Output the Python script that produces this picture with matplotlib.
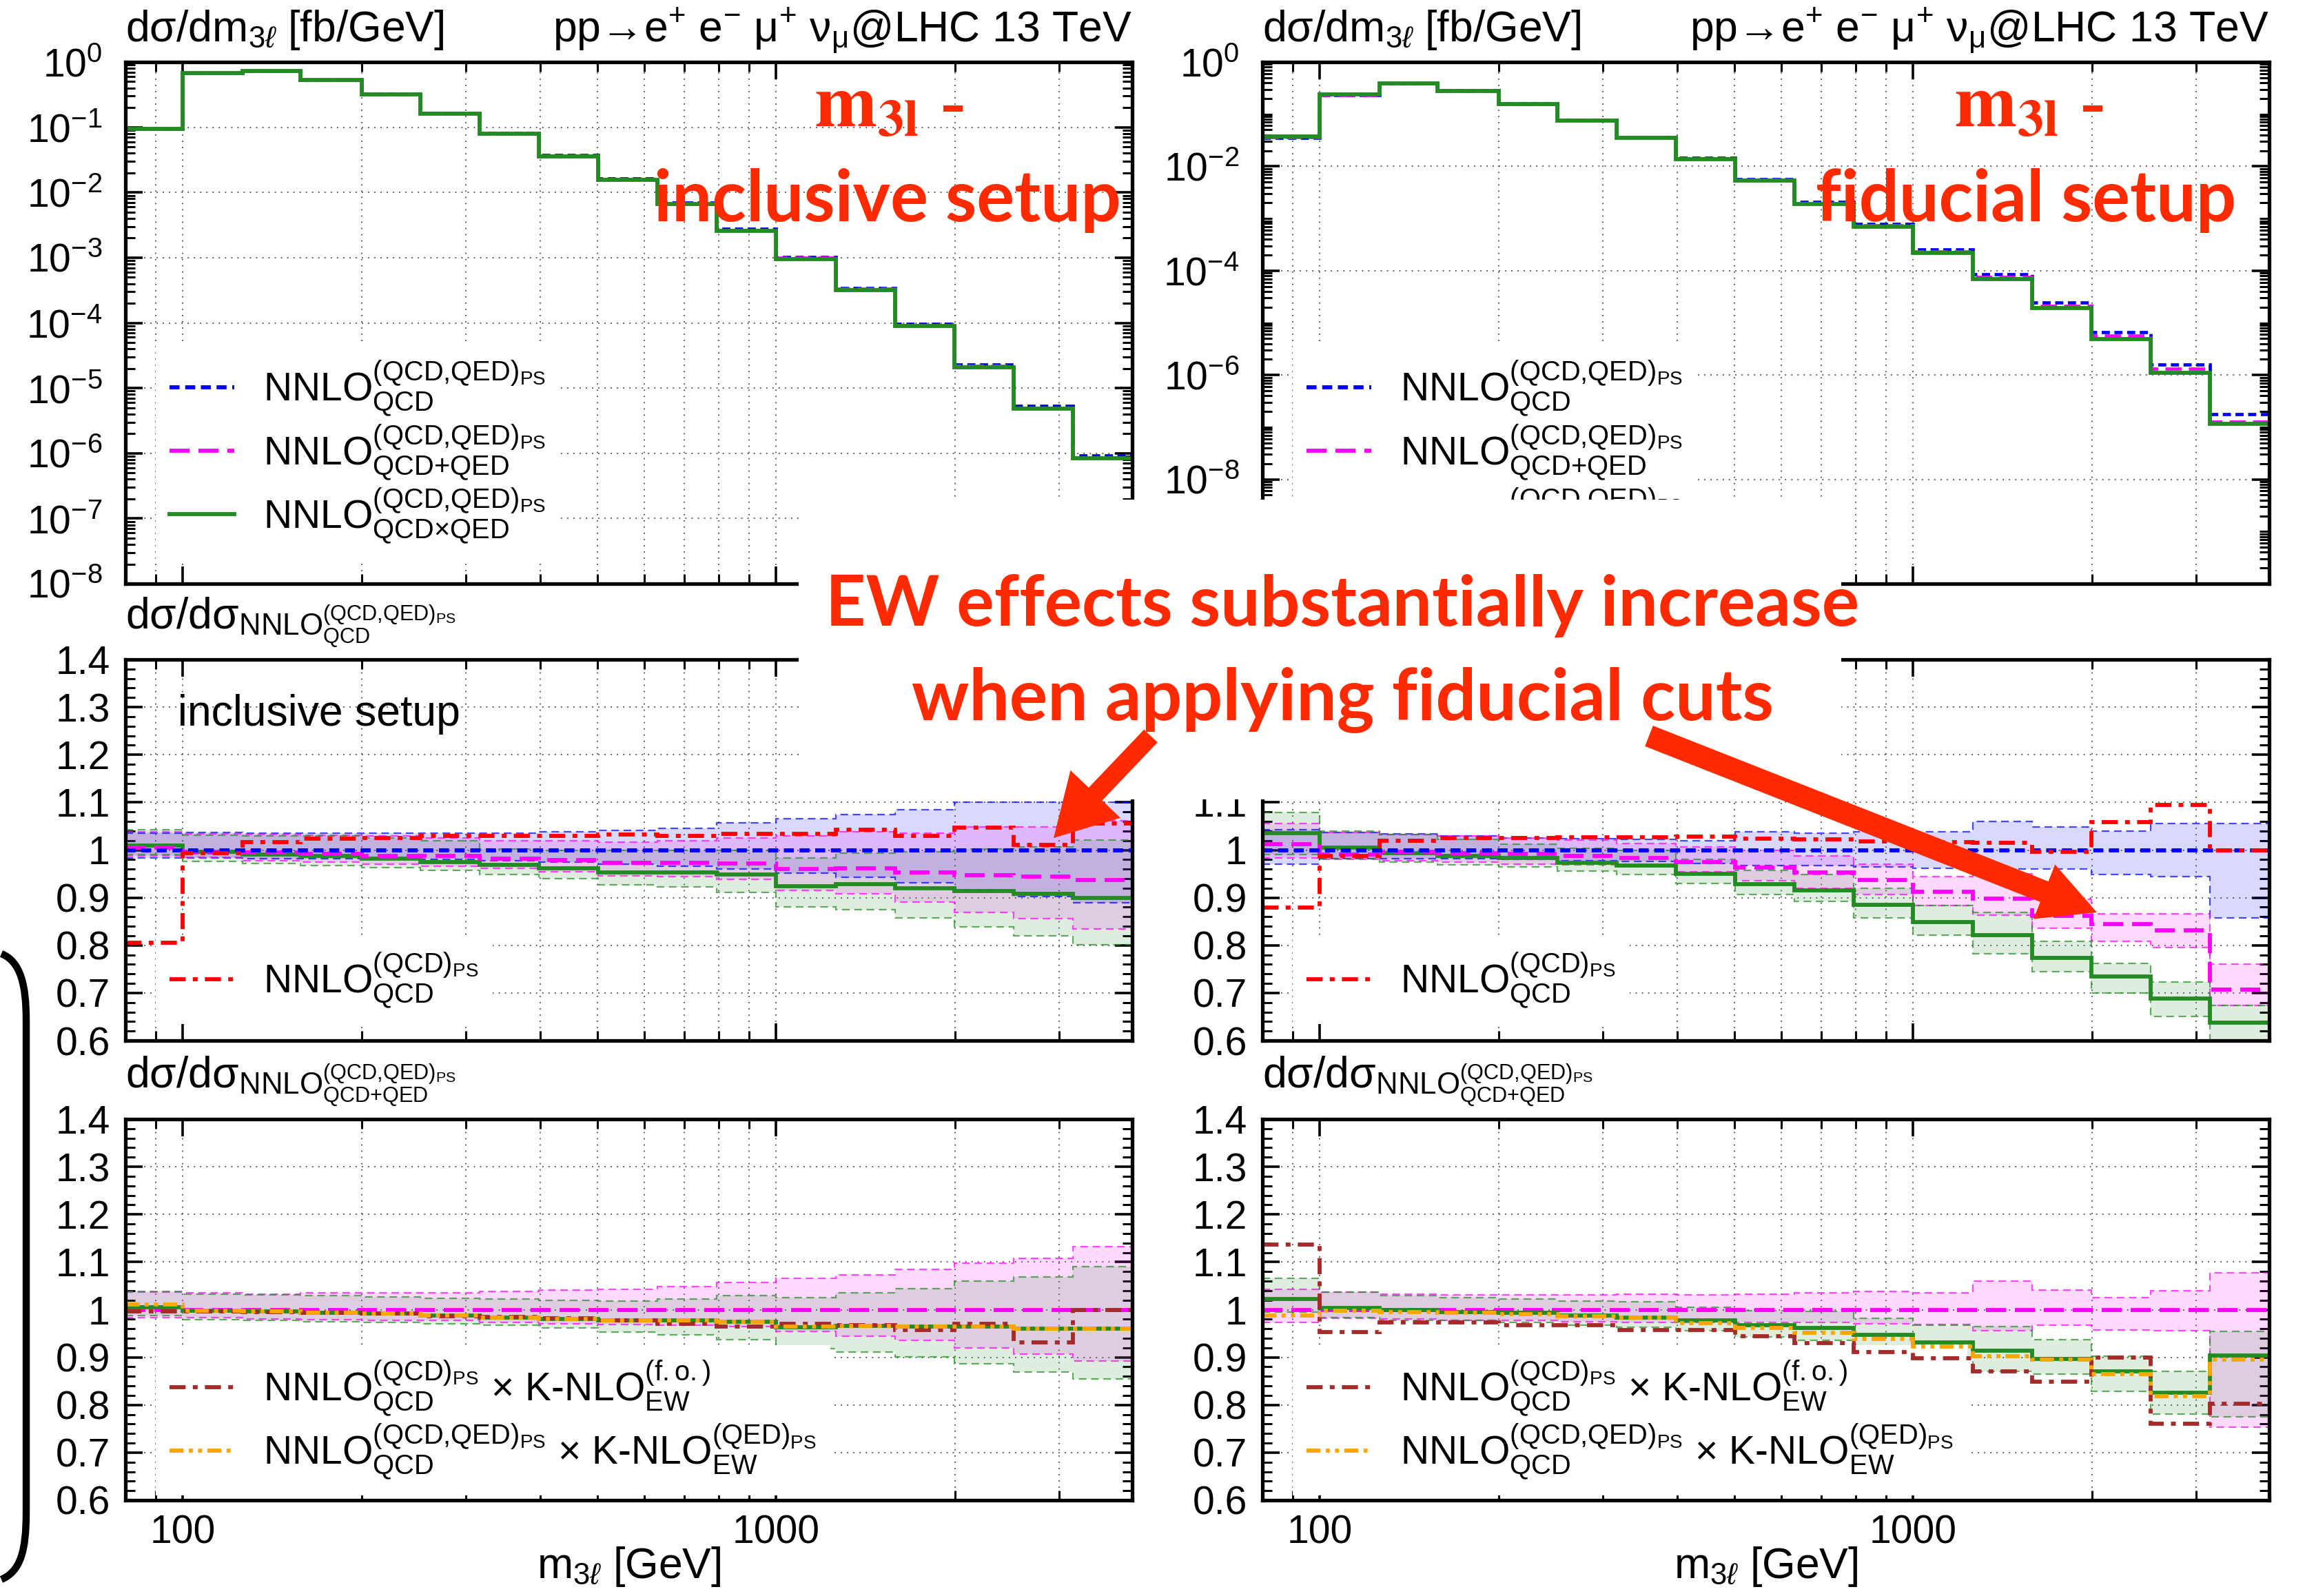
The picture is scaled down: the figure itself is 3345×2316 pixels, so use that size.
import numpy as np
import matplotlib
matplotlib.use('Agg')
from matplotlib import pyplot as plt
from matplotlib.lines import Line2D
from matplotlib.patches import Rectangle, FancyArrow, PathPatch
from matplotlib.path import Path
from matplotlib.ticker import FixedLocator, FixedFormatter, NullFormatter, MultipleLocator, LogLocator

plt.rcParams['font.family'] = ['Liberation Sans', 'DejaVu Sans']
plt.rcParams['mathtext.fontset'] = 'custom'
plt.rcParams['mathtext.rm'] = 'Liberation Sans'
plt.rcParams['mathtext.it'] = 'Liberation Sans:italic'
plt.rcParams['mathtext.bf'] = 'Liberation Sans:bold'

# ---------------- data ----------------
edges = [80, 100, 126, 158, 200, 251, 316, 398, 501, 631, 794, 1000, 1259, 1585, 1995, 2512, 3162, 3981]
x_major = [100, 1000]
x_major_labels = ['100', '1000']
x_minor = [90, 200, 300, 400, 500, 600, 700, 800, 900, 2000, 3000]
ratio_ticks = [0.6, 0.7, 0.8, 0.9, 1.0, 1.1, 1.2, 1.3, 1.4]
ratio_labels = ['0.6', '0.7', '0.8', '0.9', '1', '1.1', '1.2', '1.3', '1.4']
inc_log_ticks = [1e-8, 1e-7, 1e-6, 1e-5, 1e-4, 1e-3, 1e-2, 1e-1, 1e0]
inc_log_labels = [r'$10^{-8}$', r'$10^{-7}$', r'$10^{-6}$', r'$10^{-5}$', r'$10^{-4}$',
                  r'$10^{-3}$', r'$10^{-2}$', r'$10^{-1}$', r'$10^{0}$']
fid_log_ticks = [1e-10, 1e-8, 1e-6, 1e-4, 1e-2, 1e0]
fid_log_labels = [r'$10^{-10}$', r'$10^{-8}$', r'$10^{-6}$', r'$10^{-4}$', r'$10^{-2}$', r'$10^{0}$']

# d sigma / d m3l [fb/GeV]
inc_qcd = [0.094, 0.678, 0.737, 0.537, 0.326, 0.166, 0.0815, 0.0375, 0.0164, 0.0069, 0.00274,
           1.03e-3, 3.45e-4, 9.7e-5, 2.3e-5, 5.3e-6, 9.2e-7]
inc_sum = [0.0945, 0.675, 0.733, 0.533, 0.322, 0.164, 0.080, 0.0367, 0.016, 0.0067, 0.00266,
           9.9e-4, 3.32e-4, 9.2e-5, 2.18e-5, 5.0e-6, 8.6e-7]
inc_prod = [0.095, 0.676, 0.73, 0.53, 0.32, 0.162, 0.079, 0.036, 0.0156, 0.0066, 0.0026,
            9.5e-4, 3.2e-4, 8.9e-5, 2.1e-5, 4.8e-6, 8.3e-7]
fid_qcd = [0.0357, 0.235, 0.387, 0.284, 0.159, 0.078, 0.0367, 0.0144, 0.0057, 0.00207, 7.9e-4,
           2.59e-4, 8.5e-5, 2.46e-5, 6.7e-6, 1.6e-6, 1.8e-7]
fid_sum = [0.0362, 0.233, 0.386, 0.282, 0.158, 0.077, 0.0361, 0.0140, 0.0055, 0.00197, 7.4e-4,
           2.36e-4, 7.6e-5, 2.13e-5, 5.7e-6, 1.33e-6, 1.27e-7]
fid_prod = [0.037, 0.236, 0.385, 0.28, 0.156, 0.076, 0.0355, 0.0137, 0.0053, 0.0019, 7.0e-4,
            2.2e-4, 7.0e-5, 1.9e-5, 4.9e-6, 1.1e-6, 1.15e-7]

# ratio to NNLO_QCD^(QCD,QED)_PS
inc_r_qcd_hi = [1.036, 1.037, 1.036, 1.036, 1.036, 1.036, 1.036, 1.039, 1.041, 1.045, 1.057, 1.066, 1.074, 1.084, 1.100, 1.100, 1.100]
inc_r_qcd_lo = [0.984, 0.983, 0.982, 0.982, 0.981, 0.980, 0.977, 0.974, 0.970, 0.966, 0.960, 0.952, 0.943, 0.932, 0.916, 0.903, 0.890]
inc_r_sum = [1.005, 0.995, 0.995, 0.992, 0.988, 0.987, 0.982, 0.979, 0.973, 0.973, 0.972, 0.960, 0.961, 0.953, 0.947, 0.945, 0.937]
inc_r_sum_hi = [1.039, 1.034, 1.032, 1.031, 1.029, 1.026, 1.019, 1.019, 1.016, 1.019, 1.026, 1.029, 1.039, 1.036, 1.048, 1.048, 1.061]
inc_r_sum_lo = [0.987, 0.985, 0.977, 0.974, 0.970, 0.966, 0.962, 0.955, 0.946, 0.945, 0.938, 0.916, 0.908, 0.891, 0.869, 0.856, 0.835]
inc_r_prod = [1.010, 0.997, 0.990, 0.987, 0.982, 0.975, 0.969, 0.961, 0.953, 0.953, 0.948, 0.924, 0.928, 0.919, 0.914, 0.908, 0.899]
inc_r_prod_hi = [1.043, 1.031, 1.029, 1.029, 1.026, 1.019, 1.002, 0.999, 1.000, 0.999, 1.000, 0.984, 0.994, 0.997, 1.002, 1.006, 1.021]
inc_r_prod_lo = [0.990, 0.976, 0.972, 0.968, 0.963, 0.958, 0.948, 0.940, 0.927, 0.922, 0.911, 0.880, 0.875, 0.858, 0.838, 0.820, 0.801]
inc_r_noqed = [0.806, 0.994, 1.017, 1.024, 1.026, 1.029, 1.029, 1.030, 1.032, 1.030, 1.034, 1.034, 1.042, 1.029, 1.047, 1.011, 1.055]

fid_r_qcd_hi = [1.042, 1.037, 1.034, 1.030, 1.026, 1.024, 1.022, 1.020, 1.039, 1.036, 1.039, 1.039, 1.060, 1.049, 1.040, 1.055, 1.055]
fid_r_qcd_lo = [0.971, 0.982, 0.982, 0.982, 0.980, 0.978, 0.976, 0.972, 0.967, 0.967, 0.965, 0.962, 0.960, 0.960, 0.949, 0.944, 0.857]
fid_r_sum = [1.013, 0.990, 0.997, 0.994, 0.992, 0.987, 0.984, 0.974, 0.963, 0.953, 0.937, 0.913, 0.898, 0.862, 0.845, 0.832, 0.707]
fid_r_sum_hi = [1.055, 1.037, 1.032, 1.029, 1.026, 1.021, 1.014, 1.006, 1.000, 0.987, 0.971, 0.945, 0.950, 0.897, 0.866, 0.866, 0.761]
fid_r_sum_lo = [0.984, 0.981, 0.977, 0.974, 0.971, 0.969, 0.966, 0.955, 0.935, 0.919, 0.906, 0.884, 0.864, 0.836, 0.809, 0.795, 0.674]
fid_r_prod = [1.036, 1.005, 0.994, 0.987, 0.983, 0.973, 0.968, 0.950, 0.929, 0.916, 0.885, 0.849, 0.821, 0.774, 0.735, 0.688, 0.638]
fid_r_prod_hi = [1.079, 1.040, 1.032, 1.023, 1.013, 1.003, 1.000, 0.981, 0.958, 0.948, 0.919, 0.884, 0.869, 0.809, 0.762, 0.723, 0.674]
fid_r_prod_lo = [0.990, 0.982, 0.974, 0.969, 0.964, 0.956, 0.948, 0.930, 0.906, 0.892, 0.858, 0.822, 0.783, 0.745, 0.700, 0.651, 0.580]
fid_r_noqed = [0.879, 0.987, 1.019, 1.025, 1.026, 1.027, 1.027, 1.028, 1.024, 1.023, 1.018, 1.016, 1.015, 0.996, 1.059, 1.095, 1.000]

# ratio to NNLO_QCD+QED^(QCD,QED)_PS
inc_b_sum_hi = [1.037, 1.035, 1.033, 1.035, 1.035, 1.035, 1.038, 1.041, 1.043, 1.048, 1.057, 1.066, 1.073, 1.084, 1.097, 1.108, 1.133]
inc_b_sum_lo = [0.984, 0.983, 0.980, 0.979, 0.977, 0.977, 0.973, 0.971, 0.969, 0.968, 0.965, 0.954, 0.944, 0.935, 0.920, 0.907, 0.892]
inc_b_prod = [1.005, 0.998, 0.996, 0.994, 0.992, 0.988, 0.984, 0.980, 0.978, 0.978, 0.975, 0.963, 0.966, 0.965, 0.965, 0.960, 0.960]
inc_b_prod_hi = [1.038, 1.032, 1.031, 1.029, 1.027, 1.024, 1.022, 1.020, 1.018, 1.022, 1.029, 1.026, 1.035, 1.044, 1.060, 1.069, 1.091]
inc_b_prod_lo = [0.988, 0.979, 0.977, 0.974, 0.973, 0.971, 0.967, 0.962, 0.953, 0.947, 0.937, 0.918, 0.911, 0.901, 0.886, 0.869, 0.855]
inc_b_kfo = [0.997, 0.997, 0.995, 0.994, 0.992, 0.986, 0.985, 0.982, 0.977, 0.971, 0.965, 0.971, 0.968, 0.958, 0.971, 0.931, 0.999]
inc_b_kps = [1.011, 0.998, 0.996, 0.993, 0.992, 0.987, 0.984, 0.980, 0.978, 0.977, 0.975, 0.964, 0.966, 0.965, 0.965, 0.960, 0.960]

fid_b_sum_hi = [1.042, 1.037, 1.033, 1.031, 1.031, 1.031, 1.033, 1.031, 1.033, 1.035, 1.038, 1.035, 1.060, 1.041, 1.026, 1.040, 1.078]
fid_b_sum_lo = [0.973, 0.982, 0.980, 0.978, 0.977, 0.975, 0.973, 0.973, 0.973, 0.973, 0.971, 0.969, 0.956, 0.968, 0.958, 0.956, 0.754]
fid_b_prod = [1.023, 1.003, 0.999, 0.995, 0.993, 0.988, 0.984, 0.977, 0.968, 0.962, 0.947, 0.931, 0.914, 0.897, 0.871, 0.826, 0.904]
fid_b_prod_hi = [1.066, 1.037, 1.029, 1.026, 1.022, 1.018, 1.016, 1.005, 0.998, 0.996, 0.982, 0.968, 0.965, 0.937, 0.903, 0.870, 0.954]
fid_b_prod_lo = [0.995, 0.984, 0.977, 0.977, 0.973, 0.968, 0.963, 0.956, 0.943, 0.935, 0.915, 0.898, 0.871, 0.865, 0.828, 0.781, 0.775]
fid_b_kfo = [1.136, 0.953, 0.973, 0.973, 0.968, 0.968, 0.958, 0.957, 0.945, 0.930, 0.911, 0.898, 0.871, 0.849, 0.900, 0.760, 0.802]
fid_b_kps = [0.987, 0.998, 0.995, 0.993, 0.990, 0.986, 0.983, 0.972, 0.962, 0.952, 0.939, 0.922, 0.903, 0.895, 0.865, 0.818, 0.895]

# ---------------- styles ----------------
C_QCD, C_SUM, C_PROD = '#0000ff', '#ff00ff', '#228b22'
C_NOQED, C_KFO, C_KPS = '#ff0000', '#a52a2a', '#ffa500'
LS_QCD = (0, (2.5, 1.4))
LS_SUM = (0, (5, 2.2))
LS_DD = (0, (4, 1.8, 1.2, 1.8))
LS_DDD = (0, (3.5, 1.3, 1.0, 1.3, 1.0, 1.3))
RED = '#ff2a00'
FS = 41     # tick labels, legend
FT = 45     # axis titles
LW = 4.2

lab_qcd = r'$\mathrm{NNLO}^{(\mathrm{QCD{,}QED})_{\mathrm{PS}}}_{\mathrm{QCD}}$'
lab_sum = r'$\mathrm{NNLO}^{(\mathrm{QCD{,}QED})_{\mathrm{PS}}}_{\mathrm{QCD{+}QED}}$'
lab_prod = r'$\mathrm{NNLO}^{(\mathrm{QCD{,}QED})_{\mathrm{PS}}}_{\mathrm{QCD{\times}QED}}$'
lab_noqed = r'$\mathrm{NNLO}^{(\mathrm{QCD})_{\mathrm{PS}}}_{\mathrm{QCD}}$'
lab_kfo = r'$\mathrm{NNLO}^{(\mathrm{QCD})_{\mathrm{PS}}}_{\mathrm{QCD}}$ $\times$ K-NLO$^{(\mathrm{f.o.})}_{\mathrm{EW}}$'
lab_kps = r'$\mathrm{NNLO}^{(\mathrm{QCD{,}QED})_{\mathrm{PS}}}_{\mathrm{QCD}}$ $\times$ K-NLO$^{(\mathrm{QED})_{\mathrm{PS}}}_{\mathrm{EW}}$'

W, H = 3345, 2316
fig = plt.figure(figsize=(W / 100, H / 100), dpi=100)


def px_rect(x0, y0, x1, y1):
    return [x0 / W, 1 - y1 / H, (x1 - x0) / W, (y1 - y0) / H]


def style(ax, log=False, xlabels=False):
    ax.set_xscale('log')
    ax.set_xlim(edges[0], edges[-1])
    ax.xaxis.set_major_locator(FixedLocator(x_major))
    ax.xaxis.set_minor_locator(FixedLocator(x_minor))
    ax.xaxis.set_minor_formatter(NullFormatter())
    if xlabels:
        ax.xaxis.set_major_formatter(FixedFormatter(x_major_labels))
    else:
        ax.xaxis.set_major_formatter(NullFormatter())
    ax.tick_params(which='major', direction='in', length=18, width=2.6, top=True, right=True,
                   labelsize=FS, pad=15)
    ax.tick_params(which='minor', direction='in', length=10, width=2.2, top=True, right=True)
    ax.tick_params(axis='y', which='major', pad=24 if log else 16)
    for s in ax.spines.values():
        s.set_linewidth(3.8)
    ax.set_axisbelow(True)
    ax.grid(True, which='both', axis='x', color='0.3', ls=(0, (1, 4)), lw=1.3)
    ax.grid(True, which='major', axis='y', color='0.3', ls=(0, (1, 4)), lw=1.3)


def step(ax, vals, color, ls='-', lw=LW, z=2):
    ax.stairs(vals, edges, baseline=None, edgecolor=color, linestyle=ls, linewidth=lw, zorder=z)


def band(ax, lo, hi, color, z=1):
    ax.stairs(hi, edges, baseline=lo, fill=True, facecolor=color, edgecolor='none', alpha=0.15, zorder=z)
    for v in (lo, hi):
        ax.stairs(v, edges, baseline=None, edgecolor=color, alpha=0.7, linewidth=1.6,
                  linestyle=(0, (5, 3)), zorder=z + 0.1)


def legend(ax, handles, labels, ytop):
    leg = ax.legend(handles, labels, loc='upper left', bbox_to_anchor=(0.03, ytop), fontsize=FS,
                    handlelength=1.65, handletextpad=0.75, borderpad=0.35, labelspacing=0.1,
                    borderaxespad=0, frameon=True, fancybox=False, edgecolor='none',
                    facecolor='white', framealpha=1)
    leg.set_zorder(1.5)
    return leg


def h(color, ls='-', lw=LW):
    return Line2D([], [], color=color, ls=ls, lw=lw)


cols = [
    dict(x0=182, x1=1643, top=(inc_qcd, inc_sum, inc_prod), logt=inc_log_ticks, logl=inc_log_labels,
         ylo=1e-8, mid=(inc_r_qcd_lo, inc_r_qcd_hi, inc_r_sum, inc_r_sum_lo, inc_r_sum_hi,
                        inc_r_prod, inc_r_prod_lo, inc_r_prod_hi, inc_r_noqed),
         bot=(inc_b_sum_lo, inc_b_sum_hi, inc_b_prod, inc_b_prod_lo, inc_b_prod_hi, inc_b_kfo, inc_b_kps),
         setup='inclusive setup'),
    dict(x0=1832, x1=3293, top=(fid_qcd, fid_sum, fid_prod), logt=fid_log_ticks, logl=fid_log_labels,
         ylo=1e-10, mid=(fid_r_qcd_lo, fid_r_qcd_hi, fid_r_sum, fid_r_sum_lo, fid_r_sum_hi,
                         fid_r_prod, fid_r_prod_lo, fid_r_prod_hi, fid_r_noqed),
         bot=(fid_b_sum_lo, fid_b_sum_hi, fid_b_prod, fid_b_prod_lo, fid_b_prod_hi, fid_b_kfo, fid_b_kps),
         setup='fiducial setup'),
]

ones = [1.0] * (len(edges) - 1)

for c in cols:
    # distribution
    ax = fig.add_axes(px_rect(c['x0'], 90, c['x1'], 847))
    style(ax, log=True)
    ax.set_yscale('log')
    ax.set_ylim(c['ylo'], 1.0)
    ax.yaxis.set_major_locator(FixedLocator(c['logt']))
    ax.yaxis.set_major_formatter(FixedFormatter(c['logl']))
    ax.yaxis.set_minor_locator(LogLocator(base=10, subs=np.arange(1, 10), numticks=30))
    ax.yaxis.set_minor_formatter(NullFormatter())
    qcd, qsum, qprod = c['top']
    step(ax, qcd, C_QCD, LS_QCD, lw=3.4, z=2.0)
    step(ax, qsum, C_SUM, LS_SUM, lw=3.4, z=2.1)
    step(ax, qprod, C_PROD, z=2.2)
    legend(ax, [h(C_QCD, LS_QCD), h(C_SUM, LS_SUM), h(C_PROD)], [lab_qcd, lab_sum, lab_prod], 0.457)
    ax.text(0.0, 1.04, r'dσ/dm$_{3\ell}$ [fb/GeV]', transform=ax.transAxes, fontsize=FT, va='baseline')
    ax.text(1.0, 1.04, r'pp→e$^{+}$ e$^{-}$ μ$^{+}$ ν$_{\mathrm{μ}}$@LHC 13 TeV', transform=ax.transAxes,
            fontsize=FT, va='baseline', ha='right')

    # ratio to NNLO QCD
    ax = fig.add_axes(px_rect(c['x0'], 957, c['x1'], 1510))
    style(ax)
    ax.set_ylim(0.6, 1.4)
    ax.yaxis.set_major_locator(FixedLocator(ratio_ticks))
    ax.yaxis.set_major_formatter(FixedFormatter(ratio_labels))
    ax.yaxis.set_minor_locator(MultipleLocator(0.02))
    qlo, qhi, rsum, slo, shi, rprod, plo, phi, rnoqed = c['mid']
    band(ax, qlo, qhi, C_QCD)
    band(ax, slo, shi, C_SUM)
    band(ax, plo, phi, C_PROD)
    step(ax, rprod, C_PROD, z=2)
    step(ax, rsum, C_SUM, LS_SUM, z=2.1)
    step(ax, ones, C_QCD, LS_QCD, z=2.2)
    step(ax, rnoqed, C_NOQED, LS_DD, z=2.3)
    legend(ax, [h(C_NOQED, LS_DD)], [lab_noqed], 0.271)
    ax.text(0.052, 0.826, c['setup'], transform=ax.transAxes, fontsize=FT, va='baseline')
    ax.text(0.0, 1.081, r'dσ/dσ$_{\mathrm{NNLO}^{(\mathrm{QCD{,}QED})_{\mathrm{PS}}}_{\mathrm{QCD}}}$',
            transform=ax.transAxes, fontsize=FT, va='baseline')

    # ratio to NNLO QCD+QED
    ax = fig.add_axes(px_rect(c['x0'], 1624, c['x1'], 2177))
    style(ax, xlabels=True)
    ax.set_ylim(0.6, 1.4)
    ax.yaxis.set_major_locator(FixedLocator(ratio_ticks))
    ax.yaxis.set_major_formatter(FixedFormatter(ratio_labels))
    ax.yaxis.set_minor_locator(MultipleLocator(0.02))
    slo, shi, rprod, plo, phi, kfo, kps = c['bot']
    band(ax, slo, shi, C_SUM)
    band(ax, plo, phi, C_PROD)
    step(ax, ones, C_SUM, LS_SUM, z=2.0)
    step(ax, rprod, C_PROD, z=2.1)
    step(ax, kfo, C_KFO, LS_DD, z=2.2)
    step(ax, kps, C_KPS, LS_DDD, z=2.3)
    legend(ax, [h(C_KFO, LS_DD), h(C_KPS, LS_DDD)], [lab_kfo, lab_kps], 0.407)
    ax.text(0.0, 1.083, r'dσ/dσ$_{\mathrm{NNLO}^{(\mathrm{QCD{,}QED})_{\mathrm{PS}}}_{\mathrm{QCD{+}QED}}}$',
            transform=ax.transAxes, fontsize=FT, va='baseline')
    ax.text(0.5, -0.204, r'm$_{3\ell}$ [GeV]', transform=ax.transAxes, fontsize=FT,
            va='baseline', ha='center')

# ---------------- slide overlay ----------------
fig.add_artist(Rectangle((1159 / W, 1 - 1160 / H), (2672 - 1159) / W, (1160 - 725) / H,
                         transform=fig.transFigure, facecolor='white', edgecolor='none', zorder=10))

renderer = fig.canvas.get_renderer()


def red_text(x, y, s, width=None, **kw):
    t = fig.text(x / W, 1 - y / H, s, color=RED, zorder=11, va='baseline', **kw)
    if width is not None:
        w = t.get_window_extent(renderer=renderer).width
        t.set_fontsize(t.get_fontsize() * width / w)
    return t


sans = dict(family=['Lato', 'DejaVu Sans'], weight='bold', fontsize=70, ha='center')
serif = dict(family=['Liberation Serif'], weight='bold', fontsize=78, ha='left', math_fontfamily='stix')
red_text(1182, 184, r'$\mathbf{m}_{\mathbf{3l}}$ -', **serif)
red_text(1288, 321, 'inclusive setup', width=678, **sans)
red_text(2836, 184, r'$\mathbf{m}_{\mathbf{3l}}$ -', **serif)
red_text(2940, 321, 'fiducial setup', width=611, **sans)
red_text(1948, 908, 'EW effects substantially increase', width=1500, **sans)
red_text(1948, 1045, 'when applying fiducial cuts', width=1250, **sans)

# arrows (inches, from slide pixel positions)
for (tx, ty), (hx, hy), wd, hw, hl in [((1670, 1068), (1529, 1216), 0.27, 1.0, 0.88),
                                        ((2393, 1068), (3043, 1324), 0.32, 0.85, 0.82)]:
    fig.add_artist(FancyArrow(tx / 100, (H - ty) / 100, (hx - tx) / 100, -(hy - ty) / 100,
                              width=wd, head_width=hw, head_length=hl, length_includes_head=True,
                              transform=fig.dpi_scale_trans, color=RED, lw=0, zorder=12))

# bracket on the left
verts = [(2, 1384), (30, 1395), (38, 1430), (38, 1480), (38, 2195), (38, 2250), (30, 2280), (2, 2292)]
codes = [Path.MOVETO, Path.CURVE4, Path.CURVE4, Path.CURVE4, Path.LINETO, Path.CURVE4, Path.CURVE4, Path.CURVE4]
verts = [(x / 100, (H - y) / 100) for x, y in verts]
fig.add_artist(PathPatch(Path(verts, codes), transform=fig.dpi_scale_trans, facecolor='none',
                         edgecolor='black', lw=7.5, zorder=12))

fig.savefig('out.png', dpi=100)
